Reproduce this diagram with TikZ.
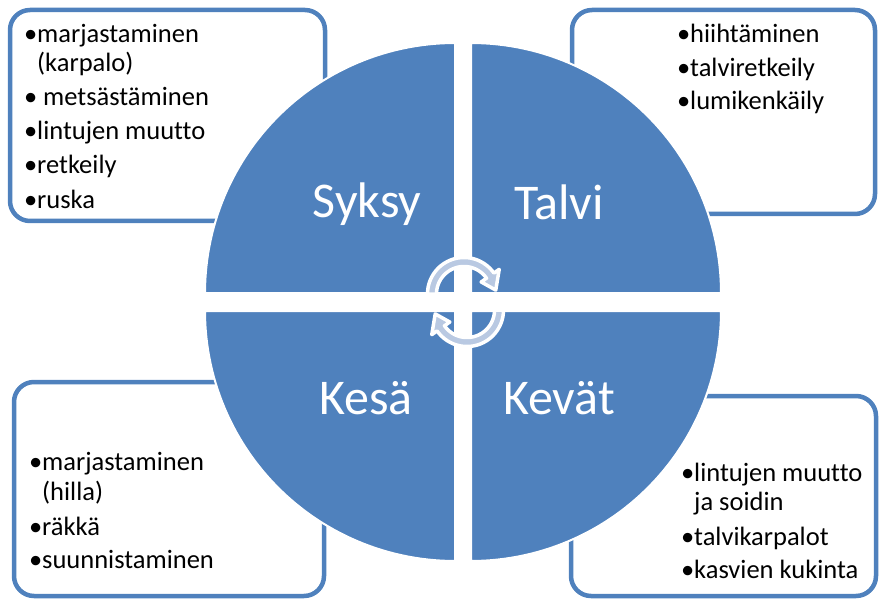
\documentclass[tikz,border=0pt]{standalone}
\usepackage{fontspec}
\setmainfont{Carlito}[Ligatures=NoCommon]
\definecolor{acc}{HTML}{4F81BD}
\definecolor{arrfill}{HTML}{B9C9E2}
\newcommand\bulitem{\makebox[13pt][l]{•}}
\newcommand\bulgap{\hspace*{13pt}}
\newcommand\cyclearrow[5]{%
  \draw[arr] plot[domain=#3:#4, samples=40] ({#1+36.5*cos(\x)},{#2+36.5*sin(\x)})
    -- ({#1+43*cos(#4)},{#2+43*sin(#4)})
    -- ({#1+32*cos(#5)},{#2+32*sin(#5)})
    -- ({#1+21*cos(#4)},{#2+21*sin(#4)})
    -- plot[domain=#4:#3, samples=40] ({#1+27.5*cos(\x)},{#2+27.5*sin(\x)})
    -- cycle;}
\begin{document}
\begin{tikzpicture}[x=1pt,y=-1pt,
  box/.style={draw=acc, line width=4.5pt, rounded corners=20pt, fill=white, inner sep=0pt},
  pie/.style={fill=acc, draw=white, line width=2pt},
  item/.style={anchor=base west, inner sep=0pt, font=\fontsize{26.5}{30}\selectfont},
  season/.style={anchor=base, inner sep=0pt, text=white, font=\fontsize{50}{58}\selectfont},
  arr/.style={fill=arrfill, draw=white, line width=3.5pt, line join=round}]
\useasboundingbox (0,0) rectangle (879,599);

% corner boxes
\node[box, minimum width=315pt, minimum height=211pt] (boxSyksy) at (167.5,115.5) {};
\node[box, minimum width=303pt, minimum height=204pt] (boxTalvi) at (723.5,112) {};
\node[box, minimum width=310pt, minimum height=214pt] (boxKesa) at (169,489) {};
\node[box, minimum width=305pt, minimum height=200pt] (boxKevat) at (723.5,496) {};

% quarter pies
\filldraw[pie] (455,293) -- plot[domain=180:270, samples=60] ({455+250*cos(\x)},{293+250*sin(\x)}) -- cycle;
\filldraw[pie] (471,293) -- plot[domain=270:360, samples=60] ({471+250*cos(\x)},{293+250*sin(\x)}) -- cycle;
\filldraw[pie] (455,311) -- plot[domain=90:180, samples=60] ({455+250*cos(\x)},{311+250*sin(\x)}) -- cycle;
\filldraw[pie] (471,311) -- plot[domain=0:90, samples=60] ({471+250*cos(\x)},{311+250*sin(\x)}) -- cycle;

% circular arrows
\cyclearrow{464}{294}{180}{325}{353}
\cyclearrow{467}{310}{0}{145}{173}

% season labels
\node[season] (syksy) at (367,218) {Syksy};
\node[season] (talvi) at (559,219) {Talvi};
\node[season] (kesa) at (366,414) {Kesä};
\node[season] (kevat) at (559,414) {Kevät};

% Syksy items
\node[item] (s1) at (24,43) {\bulitem marjastaminen};
\node[item] (s1b) at (24,72) {\bulgap(karpalo)};
\node[item] (s2) at (24,106) {\bulitem{} metsästäminen};
\node[item] (s3) at (24,140) {\bulitem lintujen muutto};
\node[item] (s4) at (24,174) {\bulitem retkeily};
\node[item] (s5) at (24,208) {\bulitem ruska};

% Talvi items
\node[item] (t1) at (677,43) {\bulitem hiihtäminen};
\node[item] (t2) at (677,77) {\bulitem talviretkeily};
\node[item] (t3) at (677,110) {\bulitem lumikenkäily};

% Kesa items
\node[item] (k1) at (29,470) {\bulitem marjastaminen};
\node[item] (k1b) at (29,500) {\bulgap(hilla)};
\node[item] (k2) at (29,535) {\bulitem räkkä};
\node[item] (k3) at (29,568) {\bulitem suunnistaminen};

% Kevat items
\node[item] (v1) at (681,481) {\bulitem lintujen muutto};
\node[item] (v1b) at (681,510) {\bulgap ja soidin};
\node[item] (v2) at (681,545) {\bulitem talvikarpalot};
\node[item] (v3) at (681,578) {\bulitem kasvien kukinta};
\end{tikzpicture}
\end{document}
